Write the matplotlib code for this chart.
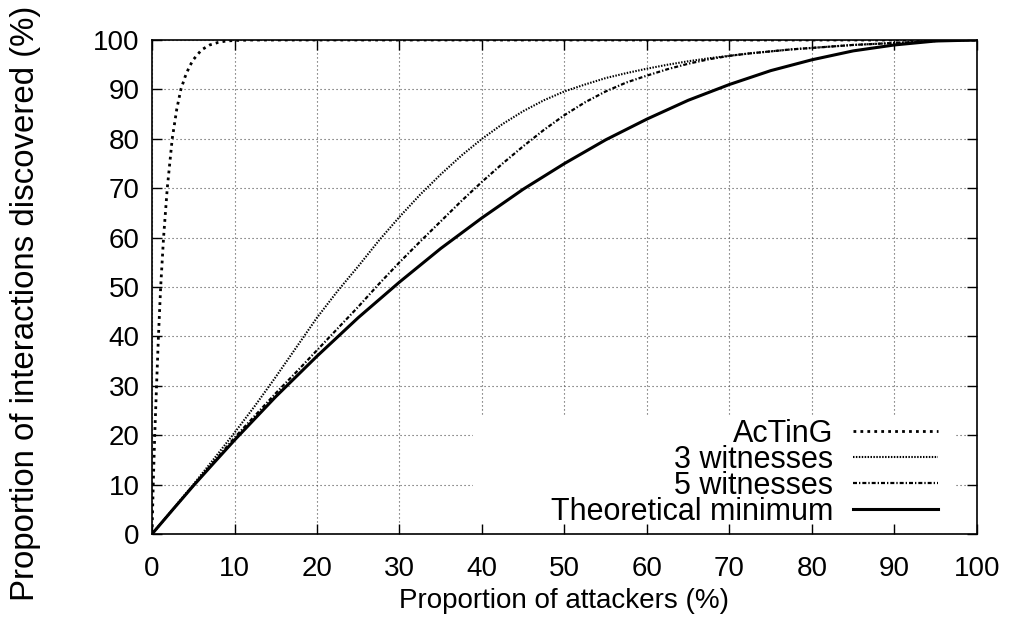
import matplotlib
matplotlib.use("Agg")
from matplotlib import pyplot as plt
from matplotlib.patches import Rectangle

plt.rcParams['font.family'] = ['Liberation Sans', 'DejaVu Sans']

# Proportion of interactions discovered (%) vs proportion of attackers (%)
attackers = [0, 2.5, 5, 7.5, 10, 12.5, 15, 17.5, 20, 22.5, 25, 27.5, 30, 32.5, 35, 37.5,
             40, 42.5, 45, 47.5, 50, 52.5, 55, 57.5, 60, 62.5, 65, 67.5, 70, 72.5, 75,
             77.5, 80, 82.5, 85, 87.5, 90, 92.5, 95, 97.5, 100]

witnesses_3 = [0, 5.0, 10.0, 15.2, 20.5, 26.0, 31.8, 37.8, 43.8, 49.2, 54.2, 59.4, 64.2, 68.7,
               72.8, 76.6, 80.0, 83.0, 85.6, 87.8, 89.6, 91.0, 92.3, 93.3, 94.2, 95.0, 95.7,
               96.3, 96.8, 97.3, 97.7, 98.1, 98.4, 98.7, 99.0, 99.2, 99.4, 99.6, 99.8, 99.9, 100]

witnesses_5 = [0, 4.9, 9.8, 14.6, 19.5, 24.0, 28.5, 32.8, 37.2, 41.6, 46.0, 50.6, 55.0, 59.2,
               63.3, 67.4, 71.3, 75.0, 78.5, 81.8, 84.8, 87.4, 89.6, 91.4, 92.8, 94.1, 95.2,
               96.1, 96.8, 97.3, 97.7, 98.1, 98.4, 98.7, 99.0, 99.2, 99.4, 99.6, 99.8, 99.9, 100]

theoretical = [0, 4.9, 9.75, 14.4, 19.0, 23.4, 27.8, 31.9, 36.0, 39.9, 43.8, 47.4, 51.0, 54.4,
               57.8, 60.9, 64.0, 66.9, 69.8, 72.4, 75.0, 77.4, 79.8, 81.9, 84.0, 85.9, 87.8,
               89.4, 91.0, 92.4, 93.8, 94.9, 96.0, 96.9, 97.8, 98.4, 99.0, 99.4, 99.8, 99.9, 100]

# AcTinG rises very steeply, so it has its own, denser x values near zero
acting_x = [0, 0.15, 0.33, 0.55, 0.78, 1.05, 1.4, 1.85, 2.45, 3.0, 3.5, 4.0, 4.5, 5.0,
            6.0, 7.0, 8.0, 9.0, 10.0, 12.0, 100]
acting_y = [0, 10, 20, 30, 40, 50, 60, 70, 80, 86, 90, 92.5, 94.5, 96, 98, 99, 99.5,
            99.8, 99.9, 100, 100]

ticks = list(range(0, 101, 10))

fig = plt.figure(figsize=(10.12, 6.34), dpi=100)
ax = fig.add_axes([0.1502, 0.1577, 0.8152, 0.7792])

ax.plot(acting_x, acting_y, color='k', lw=2.0, linestyle=(0, (1, 1.5)), label='AcTinG', zorder=3)
ax.plot(attackers, witnesses_3, color='k', lw=1.5, linestyle=(0, (0.7, 0.7)), label='3 witnesses', zorder=3)
ax.plot(attackers, witnesses_5, color='k', lw=1.6, linestyle=(0, (1.8, 0.9, 0.6, 0.9)),
        label='5 witnesses', zorder=3)
ax.plot(attackers, theoretical, color='k', lw=2.2, linestyle='-', label='Theoretical minimum', zorder=3)

ax.set_xlim(0, 100)
ax.set_ylim(0, 100)
ax.set_xticks(ticks)
ax.set_yticks(ticks)
ax.tick_params(direction='in', length=7, width=1, labelsize=20, top=True, right=True)
ax.tick_params(axis='x', pad=15.5)
ax.tick_params(axis='y', pad=9)
ax.set_axisbelow(True)
ax.grid(True, color='0.3', lw=0.8, linestyle=(0, (1, 2.6)))
for s in ax.spines.values():
    s.set_linewidth(1.2)

ax.set_xlabel('Proportion of attackers (%)', fontsize=20, labelpad=5)
ax.set_ylabel('Proportion of interactions discovered (%)', fontsize=23.8)
ax.yaxis.set_label_coords(-0.1345, 0.466)

# blank area behind the key so the grid does not run through it
ax.add_patch(Rectangle((0.389, 0.02), 0.584, 0.217, transform=ax.transAxes,
                       facecolor='white', edgecolor='none', zorder=1))

ax.legend(loc='lower right', bbox_to_anchor=(0.953, 0.015), frameon=False, markerfirst=False,
          fontsize=22, handlelength=2.78, handletextpad=0.65, labelspacing=-0.13, borderpad=0,
          borderaxespad=0)

fig.savefig('out.png', dpi=100)
